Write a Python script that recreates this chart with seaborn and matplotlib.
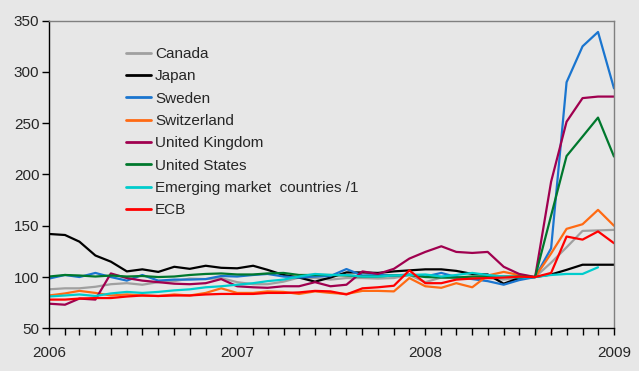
import numpy as np
import pandas as pd
import matplotlib
matplotlib.use("Agg")
import matplotlib.pyplot as plt
import matplotlib.dates as mdates
import seaborn as sns

dates = pd.date_range("2006-01-01", periods=37, freq="MS")

series_names = ["Canada", "Japan", "Sweden", "Switzerland", "United Kingdom",
                "United States", "Emerging market  countries /1", "ECB"]

canada = [88, 89, 89, 90.5, 93, 94, 92.5, 95, 96, 98.5, 98, 99, 95,
          93, 93, 95.5, 99.5, 99, 97.5, 99, 99, 98.5, 99, 102, 95,
          99.5, 99, 99.5, 99, 97.5, 99, 100, 114, 129, 145, 145.5, 146]
japan = [142, 141, 134.5, 121, 115, 105.5, 107.5, 105, 110, 108, 111, 109, 108.5,
         111, 107, 102, 99.5, 95.5, 99.5, 104.5, 104.5, 104, 105.5, 106.5, 107.5,
         107.5, 106, 103, 102.5, 93.5, 99, 100, 102.5, 107, 112, 112, 112]
sweden = [98.5, 102, 100, 104, 100, 96.5, 102, 96.5, 97.5, 97.5, 98, 101, 100.5,
          102, 103, 100.5, 99.5, 100.5, 101, 107.8, 101.5, 102, 101.5, 102.5, 100.5,
          104, 100, 98, 96, 92.5, 97, 100, 128, 290, 325, 339, 284]
switzerland = [82, 84, 86.5, 84.5, 82, 83, 82, 81.5, 83, 82, 84.5, 89, 84.5,
               84.5, 86, 85.5, 83.5, 86, 84.5, 83.5, 86.5, 86.5, 86, 99, 91,
               89.5, 94, 90, 101.5, 105, 102, 100, 123, 147, 151.5, 165.5, 150]
uk = [74, 73, 79, 78, 103.5, 99, 96.5, 95, 93.5, 93, 94, 98, 91,
      90, 89.5, 91, 91, 95, 91, 92.5, 105.5, 103, 108, 118, 124.5,
      130, 124.5, 123.5, 124.5, 110, 103, 100, 193, 251.5, 274.5, 276, 276]
us = [100.5, 102, 101.5, 100.5, 101.5, 100.5, 101, 100, 100.5, 102, 103, 103.5, 102.5,
      102.5, 103.5, 104, 102, 102, 102, 101.5, 100.5, 100.5, 101.5, 102, 100,
      99.5, 99.5, 100.5, 100.5, 100.5, 100.5, 100, 160, 218, 237, 255.5, 217.5]
emerging = [81, 82, 83, 81.5, 84, 85.5, 84.5, 85.5, 87, 88, 90, 91, 92.5,
            94, 96, 97.5, 100.5, 103, 102, 102, 100.5, 100.5, 101.5, 102, 102.5,
            100.5, 102, 104, 102, 100.5, 99.5, 100, 102, 103, 103, 109.5, np.nan]
ecb = [78, 78, 79, 79.5, 79.5, 81, 82, 81.5, 82, 82, 83, 83.5, 83.5,
       83.5, 84.5, 84.5, 85, 86.5, 86, 83, 89, 90, 91.5, 106.5, 94,
       94, 97.5, 98.5, 99, 99.5, 100.3, 100, 104, 139.5, 136.5, 144.5, 133]

colors = ["#a0a0a0", "#000000", "#1a75cf", "#ff6a13", "#a0004f",
          "#00782d", "#00cccc", "#ff0000"]

yticks = [50, 100, 150, 200, 250, 300, 350]
xtick_labels = ["2006", "2007", "2008", "2009"]

values = [canada, japan, sweden, switzerland, uk, us, emerging, ecb]
frames = []
for name, vals in zip(series_names, values):
    frames.append(pd.DataFrame({"date": dates, "value": vals, "series": name}))
df = pd.concat(frames, ignore_index=True)

sns.set_style("white")
plt.rcParams["font.family"] = ["Liberation Sans", "DejaVu Sans"]

bg = "#e7e7e7"
fig = plt.figure(figsize=(6.39, 3.71), dpi=100, facecolor=bg)
ax = fig.add_axes([49 / 639, 1 - 328.3 / 371, (614 - 49) / 639, (328.3 - 20.7) / 371])
ax.set_facecolor(bg)

sns.lineplot(data=df, x="date", y="value", hue="series", hue_order=series_names,
             palette=dict(zip(series_names, colors)), linewidth=1.6, ax=ax,
             legend=True)

ax.set_xlim(dates[0], dates[-1])
ax.set_ylim(50, 350)
ax.set_yticks(yticks)
ax.set_yticklabels([str(t) for t in yticks])
ax.xaxis.set_major_locator(mdates.YearLocator())
ax.xaxis.set_major_formatter(mdates.DateFormatter("%Y"))
ax.xaxis.set_minor_locator(mdates.MonthLocator())
ax.set_xlabel("")
ax.set_ylabel("")

ax.tick_params(axis="x", which="both", direction="out", length=5, width=1,
               color="black", pad=8, labelsize=11)
ax.tick_params(axis="y", which="both", direction="out", length=5, width=1,
               color="black", pad=2, labelsize=11)
ax.tick_params(bottom=True, left=True)
ax.xaxis.set_tick_params(which="minor", bottom=True)

for side in ["left", "bottom"]:
    ax.spines[side].set_color("black")
    ax.spines[side].set_linewidth(1)
for side in ["top", "right"]:
    ax.spines[side].set_visible(True)
    ax.spines[side].set_color("#808080")
    ax.spines[side].set_linewidth(1)

handles, labels = ax.get_legend_handles_labels()
leg = ax.legend(handles, labels, loc="upper left",
                bbox_to_anchor=(126 / 639, 1 - 47 / 371), bbox_transform=fig.transFigure,
                frameon=False, fontsize=11, handlelength=1.65, handletextpad=0.25,
                labelspacing=0.545, borderpad=0, borderaxespad=0)
for line in leg.get_lines():
    line.set_linewidth(2)

fig.savefig("out.png", dpi=100, facecolor=bg)
